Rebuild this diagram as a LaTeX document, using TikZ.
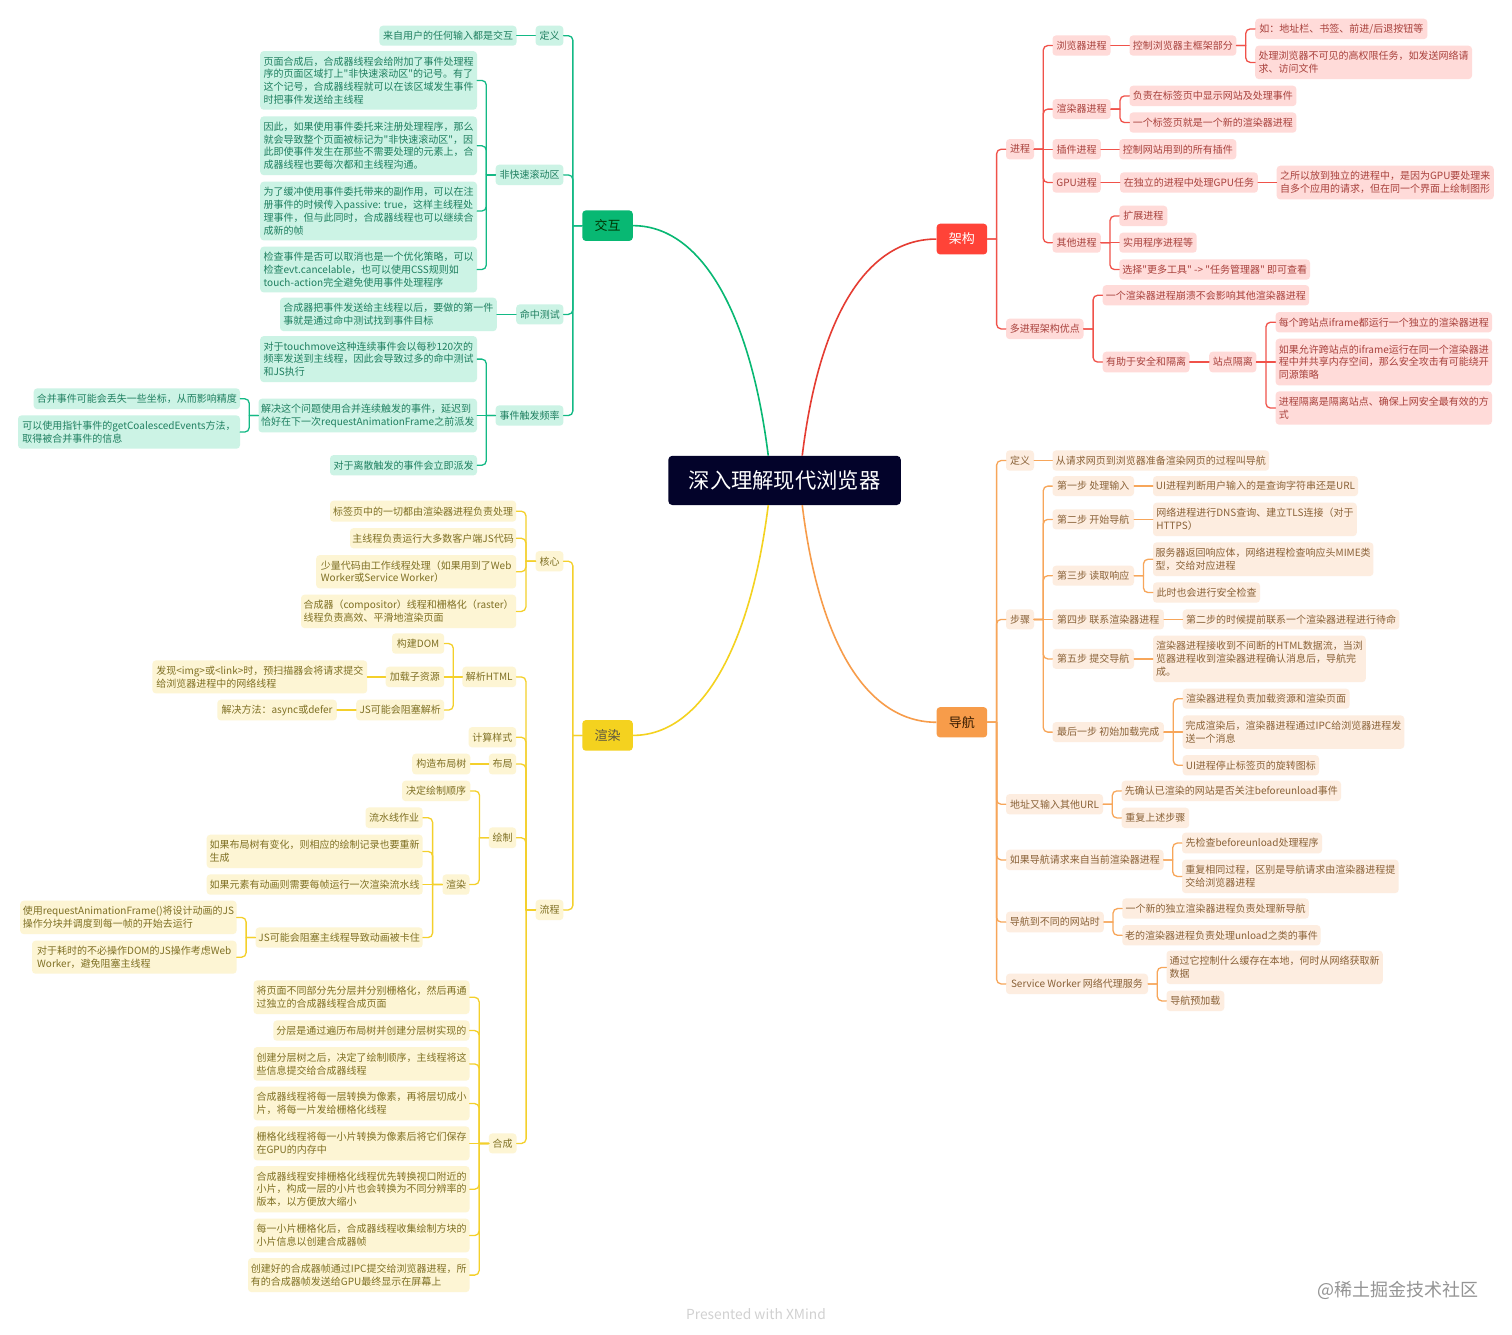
\documentclass[tikz,border=0pt]{standalone}
\usepackage{fontspec}
\setmainfont[Ligatures=TeXOff]{Noto Sans CJK SC}
\usetikzlibrary{calc}
\definecolor{gl}{HTML}{13B985}\definecolor{gf}{HTML}{CCF3E5}\definecolor{gt}{HTML}{1F7F60}\definecolor{gm}{HTML}{08B873}
\definecolor{yl}{HTML}{F4D02B}\definecolor{yf}{HTML}{FDF5D4}\definecolor{yt}{HTML}{7F7024}\definecolor{ym}{HTML}{F4D21F}
\definecolor{rl}{HTML}{F0524A}\definecolor{rf}{HTML}{FFDBD9}\definecolor{rt}{HTML}{A8413C}\definecolor{rm}{HTML}{FF4338}
\definecolor{ol}{HTML}{F7A65A}\definecolor{of}{HTML}{FDEDE0}\definecolor{ot}{HTML}{8A6238}\definecolor{om}{HTML}{F79C4A}
\definecolor{rootc}{HTML}{03032A}
\tikzset{
 bx/.style n args={4}{at={({(#1+#3)/2},{(#2+#4)/2+0.4})},minimum width={(#3-#1)*1pt},minimum height={(#4-#2)*1pt}},
 leaf/.style={rectangle,rounded corners=3.5pt,inner sep=0pt,align=left,font=\fontsize{10}{12.8}\selectfont},
 gleaf/.style={leaf,fill=gf,text=gt},
 yleaf/.style={leaf,fill=yf,text=yt},
 rleaf/.style={leaf,fill=rf,text=rt},
 oleaf/.style={leaf,fill=of,text=ot},
 major/.style={rectangle,rounded corners=3.5pt,inner sep=0pt,font=\fontsize{13}{15}\selectfont},
 rootbox/.style={rectangle,rounded corners=4pt,inner sep=0pt,fill=rootc,text=white,font=\fontsize{21.3}{25}\selectfont},
 gline/.style={draw=gl,line width=1.3pt,line cap=round},
 yline/.style={draw=yl,line width=1.3pt,line cap=round},
 rline/.style={draw=rl,line width=1.3pt,line cap=round},
 oline/.style={draw=ol,line width=1.3pt,line cap=round},
 elbow/.style={to path={let \p1=(\tikztostart),\p2=(\tikztotarget),\n1={(\x1+\x2)/2} in (\p1) -- (\n1,\y1) (\n1,\y1) [rounded corners=4.5pt] -- (\n1,\y2) -- (\p2)}},
}
\begin{document}
\begin{tikzpicture}[x=1pt,y=-1pt]
\fill[white] (0,0) rectangle (1512,1334);
\useasboundingbox (0,0) rectangle (1512,1334);
% root and main topics
\node[rootbox,bx={668.3}{455.4}{900.8}{504.6}] (root) {深入理解现代浏览器};
\node[major,bx={582.3}{210}{632.8}{240.5},fill=gm,text=green!20!black] (jh) {交互};
\node[major,bx={582.3}{719.7}{632.8}{750.3},fill=ym,text=yellow!25!black] (xr) {渲染};
\node[major,bx={936.6}{223.3}{987.2}{254},fill=rm,text=white] (jg) {架构};
\node[major,bx={936.6}{706.7}{987.2}{737},fill=om,text=orange!20!black] (dh) {导航};
\draw[gm,line width=1.6pt] ([xshift=-16.3pt]root.north) .. controls (750,310) and (700,225.6) .. (jh.east);
\draw[rm!90!black,line width=1.6pt] ([xshift=17.7pt]root.north) .. controls (820,310) and (870,239) .. (jg.west);
\draw[ym,line width=1.6pt] ([xshift=-16.3pt]root.south) .. controls (750,650) and (700,735.4) .. (xr.east);
\draw[om,line width=1.6pt] ([xshift=17.7pt]root.south) .. controls (820,650) and (870,722.2) .. (dh.west);
% interaction
\node[gleaf,bx={535.6}{25.3}{563.4}{45.3}] (jdy) {定义};
\node[gleaf,bx={379.4}{25.3}{516.6}{45.3}] (jdyt) {来自用户的任何输入都是交互};
\node[gleaf,bx={495.6}{164.3}{563.4}{184.7}] (jf) {非快速滚动区};
\node[gleaf,bx={260.2}{50.7}{477}{109.3}] (jfa) {页面合成后，合成器线程会给附加了事件处理程\\序的页面区域打上"非快速滚动区"的记号。有了\\这个记号，合成器线程就可以在该区域发生事件\\时把事件发送给主线程};
\node[gleaf,bx={260.2}{116}{477}{174.7}] (jfb) {因此，如果使用事件委托来注册处理程序，那么\\就会导致整个页面被标记为"非快速滚动区"，因\\此即使事件发生在那些不需要处理的元素上，合\\成器线程也要每次都和主线程沟通。};
\node[gleaf,bx={260.2}{181.3}{477}{240}] (jfc) {为了缓冲使用事件委托带来的副作用，可以在注\\册事件的时候传入passive: true，这样主线程处\\理事件，但与此同时，合成器线程也可以继续合\\成新的帧};
\node[gleaf,bx={260.2}{246.3}{477}{292}] (jfd) {检查事件是否可以取消也是一个优化策略，可以\\检查evt.cancelable，也可以使用CSS规则如\\touch-action完全避免使用事件处理程序};
\node[gleaf,bx={516.2}{304}{563.4}{324}] (jm) {命中测试};
\node[gleaf,bx={280}{297.3}{496.8}{330.7}] (jma) {合成器把事件发送给主线程以后，要做的第一件\\事就是通过命中测试找到事件目标};
\node[gleaf,bx={495.6}{405}{563.4}{425.3}] (jp) {事件触发频率};
\node[gleaf,bx={260.2}{335.7}{477}{381.7}] (jpa) {对于touchmove这种连续事件会以每秒120次的\\频率发送到主线程，因此会导致过多的命中测试\\和JS执行};
\node[gleaf,bx={258.5}{398.3}{477}{432}] (jpb) {解决这个问题使用合并连续触发的事件，延迟到\\恰好在下一次requestAnimationFrame之前派发};
\node[gleaf,bx={330}{454.7}{477}{475}] (jpc) {对于离散触发的事件会立即派发};
\node[gleaf,bx={33.7}{388}{240}{408.7}] (jpba) {合并事件可能会丢失一些坐标，从而影响精度};
\node[gleaf,bx={18}{415}{240}{448.3}] (jpbb) {可以使用指针事件的getCoalescedEvents方法，\\取得被合并事件的信息};
\foreach \c in {jdy,jf,jm,jp} \draw[gline,elbow] (jh.west) to (\c.east);
\draw[gline] (jdy.west) -- (jdyt.east);
\foreach \c in {jfa,jfb,jfc,jfd} \draw[gline,elbow] (jf.west) to (\c.east);
\draw[gline] (jm.west) -- (jma.east);
\foreach \c in {jpa,jpc} \draw[gline,elbow] (jp.west) to (\c.east);
\draw[gline] (jp.west) -- (jpb.east);
\foreach \c in {jpba,jpbb} \draw[gline,elbow] (jpb.west) to (\c.east);
% rendering
\node[yleaf,bx={535.6}{550.7}{563.4}{571}] (hx) {核心};
\node[yleaf,bx={330}{500.3}{516.2}{521.3}] (hxa) {标签页中的一切都由渲染器进程负责处理};
\node[yleaf,bx={350}{527.7}{516.2}{548}] (hxb) {主线程负责运行大多数客户端JS代码};
\node[yleaf,bx={316.2}{554.7}{516.2}{588}] (hxc) {少量代码由工作线程处理（如果用到了Web\\Worker或Service Worker）};
\node[yleaf,bx={301}{594.3}{516.2}{627.7}] (hxd) {合成器（compositor）线程和栅格化（raster）\\线程负责高效、平滑地渲染页面};
\node[yleaf,bx={535.6}{899.3}{563.4}{919.7}] (lc) {流程};
\node[yleaf,bx={462.3}{666.3}{516.2}{686.7}] (ht) {解析HTML};
\node[yleaf,bx={392}{633}{444.2}{653.3}] (hta) {构建DOM};
\node[yleaf,bx={385.7}{666.3}{444.2}{686.7}] (htb) {加载子资源};
\node[yleaf,bx={152.4}{660}{367.2}{693}] (htba) {发现<img>或<link>时，预扫描器会将请求提交\\给浏览器进程中的网络线程};
\node[yleaf,bx={356.2}{699.3}{444.2}{720}] (htc) {JS可能会阻塞解析};
\node[yleaf,bx={217.3}{699.3}{336.8}{720}] (htca) {解决方法：async或defer};
\node[yleaf,bx={468.6}{726.7}{516.2}{747}] (js) {计算样式};
\node[yleaf,bx={488.8}{753.3}{516.2}{774}] (bj) {布局};
\node[yleaf,bx={412.2}{753.3}{470.3}{774}] (bja) {构造布局树};
\node[yleaf,bx={488.8}{827}{516.2}{847.7}] (hz) {绘制};
\node[yleaf,bx={402}{780.3}{470.3}{800.7}] (hza) {决定绘制顺序};
\node[yleaf,bx={442.5}{874}{469.5}{894.3}] (hzb) {渲染};
\node[yleaf,bx={365.5}{807}{422.7}{827.7}] (hzba) {流水线作业};
\node[yleaf,bx={206.7}{834.3}{422.7}{867.7}] (hzbb) {如果布局树有变化，则相应的绘制记录也要重新\\生成};
\node[yleaf,bx={206.7}{874}{422.7}{894.3}] (hzbc) {如果元素有动画则需要每帧运行一次渲染流水线};
\node[yleaf,bx={255.6}{927}{422.7}{947.3}] (hzbd) {JS可能会阻塞主线程导致动画被卡住};
\node[yleaf,bx={20.2}{900.3}{236.6}{933.7}] (hzbda) {使用requestAnimationFrame()将设计动画的JS\\操作分块并调度到每一帧的开始去运行};
\node[yleaf,bx={32}{940.3}{236.6}{973.3}] (hzbdb) {对于耗时的不必操作DOM的JS操作考虑Web\\Worker，避免阻塞主线程};
\node[yleaf,bx={488.8}{1133}{516.6}{1153}] (hc) {合成};
\node[yleaf,bx={253.5}{980}{469.5}{1013.7}] (hca) {将页面不同部分先分层并分别栅格化，然后再通\\过独立的合成器线程合成页面};
\node[yleaf,bx={273.3}{1020}{469.5}{1040.3}] (hcb) {分层是通过遍历布局树并创建分层树实现的};
\node[yleaf,bx={253.5}{1046.7}{469.5}{1080.3}] (hcc) {创建分层树之后，决定了绘制顺序，主线程将这\\些信息提交给合成器线程};
\node[yleaf,bx={253.5}{1086.3}{469.5}{1120}] (hcd) {合成器线程将每一层转换为像素，再将层切成小\\片，将每一片发给栅格化线程};
\node[yleaf,bx={253.5}{1126}{469.5}{1160}] (hce) {栅格化线程将每一小片转换为像素后将它们保存\\在GPU的内存中};
\node[yleaf,bx={253.5}{1165.7}{469.5}{1212}] (hcf) {合成器线程安排栅格化线程优先转换视口附近的\\小片，构成一层的小片也会转换为不同分辨率的\\版本，以方便放大缩小};
\node[yleaf,bx={253.5}{1218.3}{469.5}{1252}] (hcg) {每一小片栅格化后，合成器线程收集绘制方块的\\小片信息以创建合成器帧};
\node[yleaf,bx={248}{1257.7}{469.5}{1291.7}] (hch) {创建好的合成器帧通过IPC提交给浏览器进程，所\\有的合成器帧发送给GPU最终显示在屏幕上};
\foreach \c in {hx,lc} \draw[yline,elbow] (xr.west) to (\c.east);
\foreach \c in {hxa,hxb,hxc,hxd} \draw[yline,elbow] (hx.west) to (\c.east);
\foreach \c in {ht,js,bj,hz,hc} \draw[yline,elbow] (lc.west) to (\c.east);
\foreach \c in {hta,htc} \draw[yline,elbow] (ht.west) to (\c.east);
\draw[yline] (ht.west) -- (htb.east);
\draw[yline] (htb.west) -- (htba.east);
\draw[yline] (htc.west) -- (htca.east);
\draw[yline] (bj.west) -- (bja.east);
\foreach \c in {hza,hzb} \draw[yline,elbow] (hz.west) to (\c.east);
\foreach \c in {hzba,hzbb,hzbd} \draw[yline,elbow] (hzb.west) to (\c.east);
\draw[yline] (hzb.west) -- (hzbc.east);
\foreach \c in {hzbda,hzbdb} \draw[yline,elbow] (hzbd.west) to (\c.east);
\foreach \c in {hca,hcb,hcc,hcd,hcf,hcg,hch} \draw[yline,elbow] (hc.west) to (\c.east);
\draw[yline] (hc.west) -- (hce.east);
% architecture
\node[rleaf,bx={1006}{138.7}{1034}{159}] (jc) {进程};
\node[rleaf,bx={1006}{318.3}{1083.5}{338.7}] (dj) {多进程架构优点};
\node[rleaf,bx={1052.5}{35}{1110.6}{55.3}] (ll) {浏览器进程};
\node[rleaf,bx={1129.5}{35}{1236.3}{55.3}] (lla) {控制浏览器主框架部分};
\node[rleaf,bx={1255.2}{18.3}{1427.4}{38.7}] (llb) {如：地址栏、书签、前进/后退按钮等};
\node[rleaf,bx={1255.2}{45.3}{1472}{78.7}] (llc) {处理浏览器不可见的高权限任务，如发送网络请\\求、访问文件};
\node[rleaf,bx={1052.5}{98.7}{1110.6}{118.7}] (xq) {渲染器进程};
\node[rleaf,bx={1129.5}{85.3}{1296.4}{105.7}] (xqa) {负责在标签页中显示网站及处理事件};
\node[rleaf,bx={1129.5}{112}{1296.4}{132.3}] (xqb) {一个标签页就是一个新的渲染器进程};
\node[rleaf,bx={1052.5}{138.7}{1100.8}{159}] (cj) {插件进程};
\node[rleaf,bx={1119.3}{138.7}{1236.3}{159}] (cja) {控制网站用到的所有插件};
\node[rleaf,bx={1052.5}{172}{1100.8}{192.3}] (gp) {GPU进程};
\node[rleaf,bx={1120}{172}{1257.9}{192.3}] (gpa) {在独立的进程中处理GPU任务};
\node[rleaf,bx={1276.7}{165.3}{1493.8}{199}] (gpb) {之所以放到独立的进程中，是因为GPU要处理来\\自多个应用的请求，但在同一个界面上绘制图形};
\node[rleaf,bx={1052.5}{232.3}{1100.8}{252.3}] (qt) {其他进程};
\node[rleaf,bx={1119.3}{205.3}{1167.3}{225.7}] (qta) {扩展进程};
\node[rleaf,bx={1119.3}{232.3}{1196.7}{252.3}] (qtb) {实用程序进程等};
\node[rleaf,bx={1119.3}{259}{1310}{279.3}] (qtc) {选择"更多工具" -> "任务管理器" 即可查看};
\node[rleaf,bx={1102.7}{284.7}{1309.2}{305}] (dja) {一个渲染器进程崩溃不会影响其他渲染器进程};
\node[rleaf,bx={1102.7}{351.3}{1189.5}{372}] (djb) {有助于安全和隔离};
\node[rleaf,bx={1209.2}{351.3}{1256.3}{372}] (zd) {站点隔离};
\node[rleaf,bx={1275.6}{311.7}{1492}{332}] (zda) {每个跨站点iframe都运行一个独立的渲染器进程};
\node[rleaf,bx={1275.6}{338.3}{1492}{385}] (zdb) {如果允许跨站点的iframe运行在同一个渲染器进\\程中并共享内存空间，那么安全攻击有可能绕开\\同源策略};
\node[rleaf,bx={1275.6}{391}{1492}{424.3}] (zdc) {进程隔离是隔离站点、确保上网安全最有效的方\\式};
\foreach \c in {jc,dj} \draw[rline,elbow] (jg.east) to (\c.west);
\foreach \c in {ll,xq,gp,qt} \draw[rline,elbow] (jc.east) to (\c.west);
\draw[rline] (jc.east) -- (cj.west);
\draw[rline] (ll.east) -- (lla.west);
\foreach \c in {llb,llc} \draw[rline,elbow] (lla.east) to (\c.west);
\foreach \c in {xqa,xqb} \draw[rline,elbow] (xq.east) to (\c.west);
\draw[rline] (cj.east) -- (cja.west);
\draw[rline] (gp.east) -- (gpa.west);
\draw[rline] (gpa.east) -- (gpb.west);
\foreach \c in {qta,qtc} \draw[rline,elbow] (qt.east) to (\c.west);
\draw[rline] (qt.east) -- (qtb.west);
\foreach \c in {dja,djb} \draw[rline,elbow] (dj.east) to (\c.west);
\draw[rline] (djb.east) -- (zd.west);
\foreach \c in {zda,zdc} \draw[rline,elbow] (zd.east) to (\c.west);
\draw[rline] (zd.east) -- (zdb.west);
% navigation
\node[oleaf,bx={1006}{450}{1034}{470.3}] (dy) {定义};
\node[oleaf,bx={1052.5}{450}{1269.2}{470.3}] (dya) {从请求网页到浏览器准备渲染网页的过程叫导航};
\node[oleaf,bx={1006}{609}{1034}{629}] (bz) {步骤};
\node[oleaf,bx={1052.5}{475.7}{1134}{495.7}] (sa) {第一步 处理输入};
\node[oleaf,bx={1153}{475.7}{1358}{495.7}] (saa) {UI进程判断用户输入的是查询字符串还是URL};
\node[oleaf,bx={1052.5}{509}{1134}{529}] (sb) {第二步 开始导航};
\node[oleaf,bx={1153}{502.3}{1356.8}{535.7}] (sba) {网络进程进行DNS查询、建立TLS连接（对于\\HTTPS）};
\node[oleaf,bx={1052.5}{565.3}{1134}{585.3}] (sc) {第三步 读取响应};
\node[oleaf,bx={1153}{542}{1373.4}{575.7}] (sca) {服务器返回响应体，网络进程检查响应头MIME类\\型，交给对应进程};
\node[oleaf,bx={1153}{582}{1260}{602.3}] (scb) {此时也会进行安全检查};
\node[oleaf,bx={1052.5}{609}{1163.9}{629}] (sd) {第四步 联系渲染器进程};
\node[oleaf,bx={1182.7}{609}{1399.4}{629}] (sda) {第二步的时候提前联系一个渲染器进程进行待命};
\node[oleaf,bx={1052.5}{648.5}{1134}{668.5}] (se) {第五步 提交导航};
\node[oleaf,bx={1153}{635.3}{1365.8}{681.7}] (sea) {渲染器进程接收到不间断的HTML数据流，当浏\\览器进程收到渲染器进程确认消息后，导航完\\成。};
\node[oleaf,bx={1052.5}{721.7}{1163.9}{741.7}] (sf) {最后一步 初始加载完成};
\node[oleaf,bx={1182.7}{688.3}{1349.6}{708.3}] (sfa) {渲染器进程负责加载资源和渲染页面};
\node[oleaf,bx={1182.7}{715}{1404.3}{748.4}] (sfb) {完成渲染后，渲染器进程通过IPC给浏览器进程发\\送一个消息};
\node[oleaf,bx={1182.7}{754.7}{1319}{775}] (sfc) {UI进程停止标签页的旋转图标};
\node[oleaf,bx={1006}{793.7}{1103}{814}] (dz) {地址又输入其他URL};
\node[oleaf,bx={1121.6}{780.3}{1341}{800.7}] (dza) {先确认已渲染的网站是否关注beforeunload事件};
\node[oleaf,bx={1121.6}{807.3}{1189.2}{827.7}] (dzb) {重复上述步骤};
\node[oleaf,bx={1006}{849.3}{1163.5}{869.7}] (rg) {如果导航请求来自当前渲染器进程};
\node[oleaf,bx={1182}{832.3}{1322}{853}] (rga) {先检查beforeunload处理程序};
\node[oleaf,bx={1182}{859.3}{1398.7}{892.7}] (rgb) {重复相同过程，区别是导航请求由渲染器进程提\\交给浏览器进程};
\node[oleaf,bx={1006}{911.3}{1103.8}{932}] (dd) {导航到不同的网站时};
\node[oleaf,bx={1122.3}{898}{1308.8}{918.3}] (dda) {一个新的独立渲染器进程负责处理新导航};
\node[oleaf,bx={1122.3}{924.7}{1320.5}{945}] (ddb) {老的渲染器进程负责处理unload之类的事件};
\node[oleaf,bx={1006}{973.3}{1148}{993.7}] (sw) {Service Worker 网络代理服务};
\node[oleaf,bx={1166.5}{950.3}{1382.8}{983.7}] (swa) {通过它控制什么缓存在本地，何时从网络获取新\\数据};
\node[oleaf,bx={1166.5}{990.3}{1224.3}{1010.7}] (swb) {导航预加载};
\foreach \c in {dy,bz,dz,rg,dd,sw} \draw[oline,elbow] (dh.east) to (\c.west);
\draw[oline] (dy.east) -- (dya.west);
\foreach \c in {sa,sb,sc,se,sf} \draw[oline,elbow] (bz.east) to (\c.west);
\draw[oline] (bz.east) -- (sd.west);
\draw[oline] (sa.east) -- (saa.west);
\draw[oline] (sb.east) -- (sba.west);
\foreach \c in {sca,scb} \draw[oline,elbow] (sc.east) to (\c.west);
\draw[oline] (sd.east) -- (sda.west);
\draw[oline] (se.east) -- (sea.west);
\foreach \c in {sfa,sfc} \draw[oline,elbow] (sf.east) to (\c.west);
\draw[oline] (sf.east) -- (sfb.west);
\foreach \c in {dza,dzb} \draw[oline,elbow] (dz.east) to (\c.west);
\foreach \c in {rga,rgb} \draw[oline,elbow] (rg.east) to (\c.west);
\foreach \c in {dda,ddb} \draw[oline,elbow] (dd.east) to (\c.west);
\foreach \c in {swa,swb} \draw[oline,elbow] (sw.east) to (\c.west);
% credits
\node[inner sep=0pt,text=black!18,font=\fontsize{13.8}{16}\selectfont] (fx) at (756,1314.5) {Presented with XMind};
\node[inner sep=0pt,text=black!42,font=\fontsize{18}{22}\selectfont] (wm) at (1398,1290.5) {@稀土掘金技术社区};
\end{tikzpicture}
\end{document}
